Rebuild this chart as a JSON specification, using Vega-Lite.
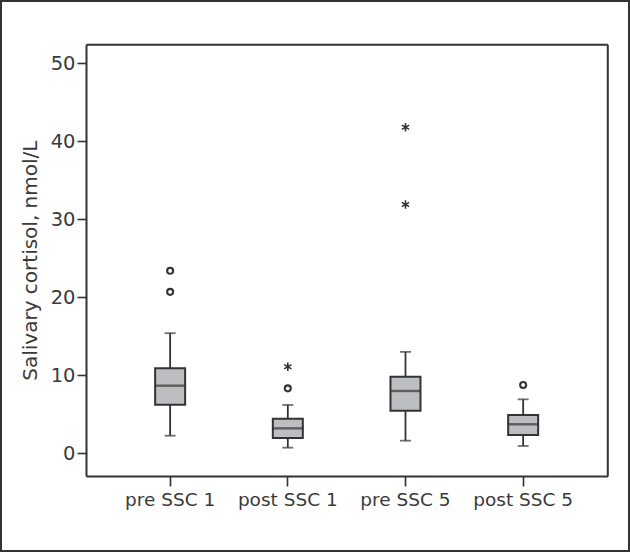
{
  "$schema": "https://vega.github.io/schema/vega-lite/v6.json",
  "width": 628,
  "height": 550,
  "autosize": {"type": "none"},
  "padding": 1,
  "background": "white",
  "config": {
    "view": {"stroke": "#333333", "strokeWidth": 2},
    "font": "DejaVu Sans"
  },
  "datasets": {
    "boxes": [
      {"group": "pre SSC 1", "lo": 2.26, "q1": 6.23, "med": 8.67, "q3": 10.9, "hi": 15.4},
      {"group": "post SSC 1", "lo": 0.72, "q1": 1.96, "med": 3.2, "q3": 4.44, "hi": 6.2},
      {"group": "pre SSC 5", "lo": 1.62, "q1": 5.46, "med": 7.99, "q3": 9.82, "hi": 13.0},
      {"group": "post SSC 5", "lo": 0.94, "q1": 2.35, "med": 3.72, "q3": 4.91, "hi": 6.92}
    ],
    "outliers": [
      {"group": "pre SSC 1", "value": 23.4, "kind": "circle"},
      {"group": "pre SSC 1", "value": 20.7, "kind": "circle"},
      {"group": "post SSC 1", "value": 8.33, "kind": "circle"},
      {"group": "post SSC 1", "value": 11.1, "kind": "asterisk"},
      {"group": "pre SSC 5", "value": 41.8, "kind": "asterisk"},
      {"group": "pre SSC 5", "value": 31.9, "kind": "asterisk"},
      {"group": "post SSC 5", "value": 8.76, "kind": "circle"}
    ]
  },
  "resolve": {"axis": {"x": "independent", "y": "independent"}},
  "layer": [
    {
      "data": {"name": "boxes"},
      "mark": {"type": "rule", "color": "#333333", "strokeWidth": 1.8},
      "encoding": {
        "x": {
          "field": "group", "type": "nominal",
          "sort": ["pre SSC 1", "post SSC 1", "pre SSC 5", "post SSC 5"],
          "scale": {"type": "band", "range": [85, 606.3], "paddingInner": 0, "paddingOuter": 0.215},
          "axis": {
            "orient": "bottom", "offset": -75, "title": null, "labelAngle": 0,
            "domainColor": "#333333", "domainWidth": 2,
            "tickColor": "#333333", "tickWidth": 1.6, "tickSize": 10,
            "labelFont": "DejaVu Sans", "labelFontSize": 18.5, "labelColor": "#3a3a3a", "labelPadding": 4,
            "grid": false
          }
        },
        "y": {
          "field": "lo", "type": "quantitative",
          "scale": {"domain": [-2.91, 52.44], "range": [475, 43.3], "nice": false, "zero": false},
          "axis": {
            "orient": "left", "offset": -85, "values": [0, 10, 20, 30, 40, 50],
            "title": "Salivary cortisol, nmol/L",
            "titleFont": "DejaVu Sans", "titleFontSize": 20, "titleFontWeight": "normal", "titleColor": "#3a3a3a", "titlePadding": 10,
            "domainColor": "#333333", "domainWidth": 2,
            "tickColor": "#333333", "tickWidth": 1.6, "tickSize": 9,
            "labelFont": "DejaVu Sans", "labelFontSize": 19.5, "labelColor": "#3a3a3a", "labelPadding": 2,
            "grid": false
          }
        },
        "y2": {"field": "hi"}
      }
    },
    {
      "data": {"name": "boxes"},
      "mark": {"type": "tick", "color": "#333333", "size": 11, "thickness": 1.8},
      "encoding": {
        "x": {
          "field": "group", "type": "nominal",
          "sort": ["pre SSC 1", "post SSC 1", "pre SSC 5", "post SSC 5"],
          "axis": {"orient": "top", "offset": -43.3, "title": null, "labels": false, "ticks": false, "domainColor": "#333333", "domainWidth": 2, "grid": false}
        },
        "y": {
          "field": "lo", "type": "quantitative",
          "axis": {"orient": "right", "offset": -21.7, "title": null, "labels": false, "ticks": false, "domainColor": "#333333", "domainWidth": 2, "grid": false}
        }
      }
    },
    {
      "data": {"name": "boxes"},
      "mark": {"type": "tick", "color": "#333333", "size": 11, "thickness": 1.8},
      "encoding": {
        "x": {"field": "group", "type": "nominal", "sort": ["pre SSC 1", "post SSC 1", "pre SSC 5", "post SSC 5"], "axis": null},
        "y": {"field": "hi", "type": "quantitative", "axis": null}
      }
    },
    {
      "data": {"name": "boxes"},
      "mark": {"type": "bar", "size": 30, "fill": "#bdbec1", "stroke": "#333333", "strokeWidth": 2},
      "encoding": {
        "x": {"field": "group", "type": "nominal", "sort": ["pre SSC 1", "post SSC 1", "pre SSC 5", "post SSC 5"], "axis": null},
        "y": {"field": "q1", "type": "quantitative", "axis": null},
        "y2": {"field": "q3"}
      }
    },
    {
      "data": {"name": "boxes"},
      "mark": {"type": "tick", "color": "#333333", "size": 31, "thickness": 2.4},
      "encoding": {
        "x": {"field": "group", "type": "nominal", "sort": ["pre SSC 1", "post SSC 1", "pre SSC 5", "post SSC 5"], "axis": null},
        "y": {"field": "med", "type": "quantitative", "axis": null}
      }
    },
    {
      "data": {"name": "outliers"},
      "transform": [{"filter": "datum.kind === 'circle'"}],
      "mark": {"type": "point", "shape": "circle", "size": 36, "filled": true, "fill": "white", "stroke": "#333333", "strokeWidth": 2.1, "opacity": 1},
      "encoding": {
        "x": {"field": "group", "type": "nominal", "sort": ["pre SSC 1", "post SSC 1", "pre SSC 5", "post SSC 5"], "axis": null},
        "y": {"field": "value", "type": "quantitative", "axis": null}
      }
    },
    {
      "data": {"name": "outliers"},
      "transform": [{"filter": "datum.kind === 'asterisk'"}],
      "mark": {"type": "point", "shape": "M0,-1L0,1M-0.866,-0.5L0.866,0.5M-0.866,0.5L0.866,-0.5", "size": 72, "filled": false, "stroke": "#333333", "strokeWidth": 1.6, "opacity": 1},
      "encoding": {
        "x": {"field": "group", "type": "nominal", "sort": ["pre SSC 1", "post SSC 1", "pre SSC 5", "post SSC 5"], "axis": null},
        "y": {"field": "value", "type": "quantitative", "axis": null}
      }
    }
  ]
}
